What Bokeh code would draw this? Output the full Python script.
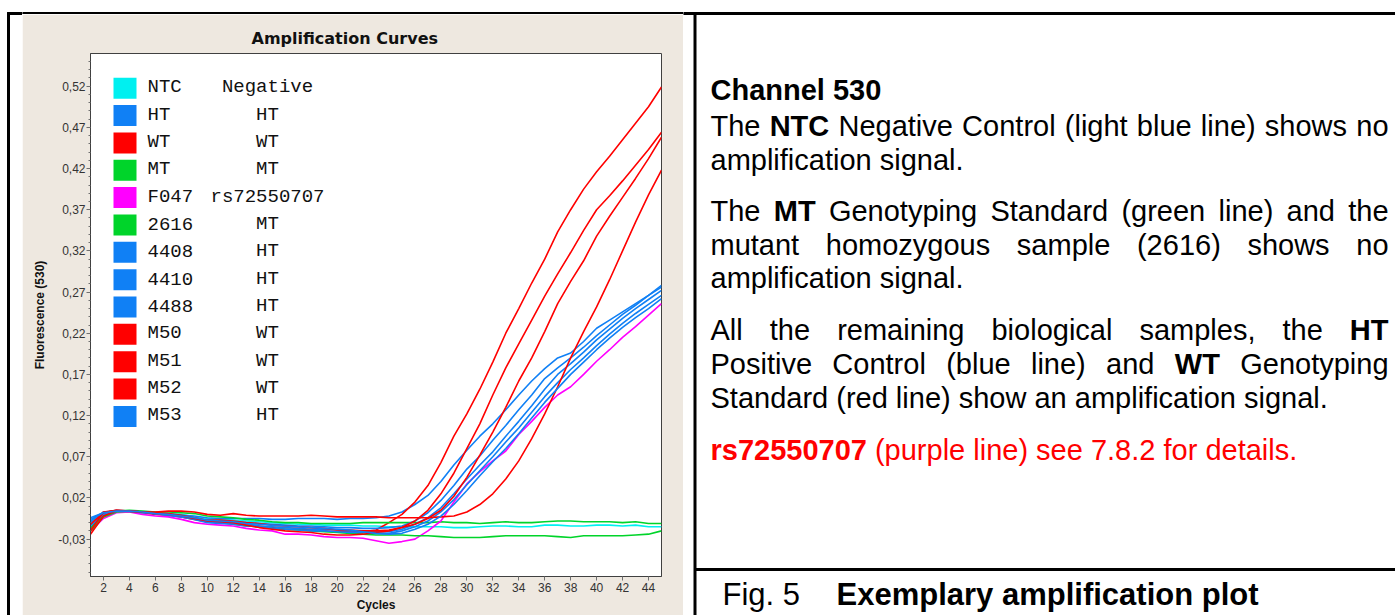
from bokeh.plotting import figure
from bokeh.layouts import row, column
from bokeh.models import Range1d, FixedTicker, BoxAnnotation, Label, ColumnDataSource
from bokeh.core.properties import value
from bokeh.embed import file_html
from bokeh.resources import INLINE

# ---------------- data ----------------
cycles = list(range(1, 46))

sample_names = ["NTC", "HT", "WT", "MT", "F047", "2616", "4408", "4410", "4488",
                "M50", "M51", "M52", "M53"]
sample_types = ["Negative", "HT", "WT", "MT", "rs72550707", "MT", "HT", "HT", "HT",
                "WT", "WT", "WT", "HT"]

ntc = [-0.010, 0.002, 0.004, 0.004, 0.003, 0.002, 0.001, 0.000, -0.003, -0.005,
       -0.006, -0.007, -0.008, -0.009, -0.010, -0.011, -0.012, -0.012, -0.013, -0.013,
       -0.013, -0.014, -0.014, -0.015, -0.015, -0.015, -0.015, -0.015, -0.016, -0.016,
       -0.015, -0.014, -0.014, -0.015, -0.015, -0.013, -0.013, -0.014, -0.014, -0.013,
       -0.013, -0.014, -0.013, -0.015, -0.015]
ht = [-0.008, 0.003, 0.004, 0.004, 0.003, 0.001, 0.000, -0.001, -0.002, -0.004,
      -0.005, -0.005, -0.005, -0.005, -0.006, -0.006, -0.005, -0.005, -0.005, -0.006,
      -0.005, -0.005, -0.004, -0.002, 0.003, 0.012, 0.023, 0.040, 0.060, 0.078,
      0.095, 0.110, 0.127, 0.145, 0.162, 0.177, 0.190, 0.196, 0.210, 0.226,
      0.236, 0.246, 0.256, 0.266, 0.276]
wt = [-0.018, 0.000, 0.004, 0.004, 0.002, 0.000, -0.001, -0.003, -0.006, -0.009,
      -0.010, -0.011, -0.012, -0.014, -0.016, -0.018, -0.018, -0.019, -0.020, -0.021,
      -0.021, -0.021, -0.019, -0.010, 0.000, 0.015, 0.035, 0.063, 0.095, 0.122,
      0.152, 0.185, 0.220, 0.250, 0.281, 0.310, 0.343, 0.370, 0.395, 0.416,
      0.435, 0.455, 0.475, 0.495, 0.519]
mt = [-0.016, -0.001, 0.004, 0.005, 0.004, 0.003, 0.003, 0.002, 0.001, -0.002,
      -0.003, -0.004, -0.006, -0.007, -0.009, -0.010, -0.010, -0.011, -0.011, -0.011,
      -0.011, -0.010, -0.010, -0.010, -0.010, -0.010, -0.010, -0.009, -0.010, -0.010,
      -0.011, -0.010, -0.009, -0.010, -0.010, -0.009, -0.008, -0.008, -0.009, -0.009,
      -0.009, -0.010, -0.009, -0.011, -0.011]
f047 = [-0.020, -0.005, 0.002, 0.003, 0.000, -0.002, -0.003, -0.006, -0.010, -0.012,
        -0.013, -0.014, -0.017, -0.019, -0.020, -0.024, -0.024, -0.025, -0.027, -0.028,
        -0.028, -0.029, -0.032, -0.035, -0.033, -0.030, -0.020, -0.008, 0.015, 0.037,
        0.052, 0.065, 0.077, 0.097, 0.113, 0.130, 0.145, 0.155, 0.170, 0.186,
        0.200, 0.215, 0.228, 0.242, 0.256]
s2616 = [-0.020, -0.003, 0.003, 0.004, 0.003, 0.002, 0.000, -0.002, -0.005, -0.008,
         -0.010, -0.012, -0.014, -0.015, -0.017, -0.018, -0.019, -0.020, -0.021, -0.022,
         -0.023, -0.024, -0.025, -0.025, -0.025, -0.026, -0.026, -0.027, -0.028, -0.028,
         -0.028, -0.027, -0.026, -0.026, -0.026, -0.026, -0.027, -0.028, -0.026, -0.026,
         -0.026, -0.026, -0.025, -0.024, -0.020]
s4408 = [-0.004, 0.002, 0.005, 0.004, 0.003, 0.002, 0.000, -0.002, -0.004, -0.007,
         -0.008, -0.009, -0.010, -0.011, -0.012, -0.013, -0.014, -0.014, -0.015, -0.016,
         -0.016, -0.017, -0.017, -0.016, -0.014, -0.008, 0.002, 0.017, 0.035, 0.055,
         0.071, 0.090, 0.108, 0.127, 0.145, 0.165, 0.178, 0.190, 0.203, 0.217,
         0.230, 0.243, 0.254, 0.266, 0.278]
s4410 = [-0.010, 0.001, 0.004, 0.004, 0.003, 0.001, -0.001, -0.003, -0.005, -0.009,
         -0.010, -0.011, -0.012, -0.014, -0.015, -0.016, -0.017, -0.018, -0.018, -0.019,
         -0.020, -0.020, -0.021, -0.021, -0.018, -0.012, -0.004, 0.008, 0.025, 0.043,
         0.060, 0.076, 0.095, 0.113, 0.132, 0.152, 0.170, 0.183, 0.197, 0.212,
         0.225, 0.238, 0.250, 0.261, 0.272]
s4488 = [-0.014, 0.000, 0.004, 0.004, 0.002, 0.001, -0.001, -0.003, -0.006, -0.010,
         -0.011, -0.012, -0.014, -0.015, -0.017, -0.018, -0.019, -0.020, -0.020, -0.021,
         -0.022, -0.022, -0.023, -0.023, -0.020, -0.015, -0.008, 0.003, 0.018, 0.036,
         0.053, 0.070, 0.088, 0.105, 0.124, 0.143, 0.160, 0.176, 0.190, 0.205,
         0.219, 0.232, 0.244, 0.255, 0.266]
m50 = [-0.024, -0.002, 0.004, 0.004, 0.003, 0.001, 0.000, -0.002, -0.005, -0.008,
       -0.009, -0.010, -0.013, -0.016, -0.018, -0.020, -0.021, -0.022, -0.024, -0.025,
       -0.025, -0.024, -0.022, -0.020, -0.016, -0.008, 0.005, 0.025, 0.050, 0.080,
       0.110, 0.145, 0.178, 0.207, 0.236, 0.265, 0.292, 0.318, 0.345, 0.370,
       0.387, 0.405, 0.424, 0.443, 0.464]
m51 = [-0.012, 0.002, 0.005, 0.004, 0.003, 0.002, 0.001, -0.001, -0.004, -0.007,
       -0.007, -0.008, -0.010, -0.011, -0.013, -0.014, -0.015, -0.016, -0.017, -0.019,
       -0.019, -0.020, -0.020, -0.019, -0.016, -0.012, -0.005, 0.005, 0.022, 0.045,
       0.072, 0.100, 0.130, 0.162, 0.190, 0.222, 0.256, 0.283, 0.308, 0.338,
       0.362, 0.385, 0.408, 0.432, 0.458]
m52 = [-0.020, 0.003, 0.005, 0.004, 0.003, 0.003, 0.004, 0.004, 0.003, 0.000,
       -0.001, 0.001, -0.001, -0.002, -0.002, -0.002, -0.002, -0.001, -0.002, -0.003,
       -0.003, -0.003, -0.003, -0.004, -0.004, -0.004, -0.004, -0.003, -0.002, 0.003,
       0.012, 0.025, 0.043, 0.065, 0.092, 0.122, 0.155, 0.190, 0.222, 0.252,
       0.285, 0.320, 0.355, 0.388, 0.418]
m53 = [-0.006, 0.002, 0.004, 0.004, 0.003, 0.001, 0.000, -0.002, -0.004, -0.007,
       -0.008, -0.009, -0.011, -0.012, -0.013, -0.014, -0.015, -0.016, -0.017, -0.018,
       -0.019, -0.021, -0.023, -0.024, -0.023, -0.018, -0.012, -0.002, 0.012, 0.029,
       0.047, 0.064, 0.080, 0.098, 0.117, 0.136, 0.153, 0.170, 0.185, 0.200,
       0.214, 0.227, 0.239, 0.250, 0.262]

series = [ntc, ht, wt, mt, f047, s2616, s4408, s4410, s4488, m50, m51, m52, m53]

type_colors = {"Negative": "#00F0F0", "HT": "#1080F5", "WT": "#FF0000",
               "MT": "#00D42A", "rs72550707": "#FF00FF"}

y_ticks = [-0.03, 0.02, 0.07, 0.12, 0.17, 0.22, 0.27, 0.32, 0.37, 0.42, 0.47, 0.52]
y_tick_labels = ["-0,03", "0,02", "0,07", "0,12", "0,17", "0,22", "0,27", "0,32",
                 "0,37", "0,42", "0,47", "0,52"]
x_ticks = list(range(2, 45, 2))

# ---------------- page geometry (pixels) ----------------
PAGE_W, PAGE_H = 1395, 615
BEIGE = "#EEE8E0"
BEIGE_L, BEIGE_R, BEIGE_T = 22, 683, 14
FRAME_L, FRAME_R, FRAME_T, FRAME_B = 90, 661, 53, 576


def blank(width, height, x0, y0):
    f = figure(width=width, height=height, output_backend="svg", toolbar_location=None,
               x_range=Range1d(x0, x0 + width), y_range=Range1d(y0 + height, y0),
               x_axis_type=None, y_axis_type=None, title=None, min_border=0,
               min_border_left=0, min_border_right=0, min_border_top=0,
               min_border_bottom=0, outline_line_color=None,
               background_fill_color="white", border_fill_color="white")
    return f


# left white strip with the table's left border
fa = blank(BEIGE_L, PAGE_H, 0, 0)
fa.quad(left=[7], right=[9], top=[12], bottom=[PAGE_H], color="black")
fa.quad(left=[7], right=[BEIGE_L], top=[12], bottom=[14], color="black")

# strip above the chart panel
fb = blank(BEIGE_R - BEIGE_L, BEIGE_T, BEIGE_L, 0)
fb.quad(left=[BEIGE_L], right=[BEIGE_R], top=[12], bottom=[14], color="black")

# ---------------- chart ----------------
p = figure(width=BEIGE_R - BEIGE_L, height=PAGE_H - BEIGE_T, output_backend="svg",
           toolbar_location=None,
           x_range=Range1d(1, 45), y_range=Range1d(-0.0754, 0.5597),
           min_border_left=FRAME_L - BEIGE_L, min_border_right=BEIGE_R - FRAME_R,
           min_border_top=FRAME_T - BEIGE_T, min_border_bottom=PAGE_H - FRAME_B,
           background_fill_color="white", border_fill_color=BEIGE,
           outline_line_color="#404040")
p.grid.visible = False

for name, typ, vals in zip(sample_names, sample_types, series):
    p.line(cycles, vals, line_color=type_colors[typ], line_width=1.6)

minor = [round(v / 100, 2) for v in range(-7, 56) if round(v / 100, 2) not in y_ticks]
p.yaxis.ticker = FixedTicker(ticks=y_ticks, minor_ticks=minor)
p.yaxis.major_label_overrides = {t: l for t, l in zip(y_ticks, y_tick_labels)}
p.xaxis.ticker = FixedTicker(ticks=x_ticks, minor_ticks=[])
for ax in (p.xaxis, p.yaxis):
    ax.axis_line_color = "#404040"
    ax.major_tick_line_color = "#707070"
    ax.minor_tick_line_color = "#707070"
    ax.major_tick_in = 0
    ax.major_tick_out = 4
    ax.minor_tick_in = 0
    ax.minor_tick_out = 2
    ax.major_label_text_font = "Liberation Sans"
    ax.major_label_text_font_size = "12px"
    ax.major_label_text_color = "#333333"
    ax.axis_label_text_font = "Liberation Sans"
    ax.axis_label_text_font_size = "12px"
    ax.axis_label_text_font_style = "bold"
    ax.axis_label_text_color = "#111111"
p.yaxis.major_label_standoff = 1
p.xaxis.major_label_standoff = 2
p.yaxis.axis_label = "Fluorescence (530)"
p.yaxis.axis_label_standoff = 8
p.xaxis.axis_label = "Cycles"
p.xaxis.axis_label_standoff = 3

p.title.text = "Amplification Curves"
p.title.text_font = "DejaVu Sans"
p.title.text_font_size = "16px"
p.title.text_font_style = "bold"
p.title.text_color = "#111111"
p.title.align = "left"
p.title.offset = 345 - 94 - FRAME_L
p.title.standoff = 12

# legend inside the plot frame (screen units from the frame's bottom-left corner)


def sx(X):
    return X - FRAME_L


def sy(Y):
    return FRAME_B - Y


LEG_TOP, LEG_STEP = 87.7, 27.35
for i, (name, typ) in enumerate(zip(sample_names, sample_types)):
    yc = LEG_TOP + i * LEG_STEP
    p.add_layout(BoxAnnotation(left=sx(113), right=sx(136), top=sy(yc - 10.5),
                               bottom=sy(yc + 10.5), left_units="screen",
                               right_units="screen", top_units="screen",
                               bottom_units="screen", fill_color=type_colors[typ],
                               fill_alpha=1.0, line_alpha=0))
    p.add_layout(Label(x=sx(147), y=sy(yc - 1), x_units="screen", y_units="screen",
                       text=name, text_font="Liberation Mono", text_font_size="19px",
                       text_color="#111111", text_baseline="middle"))
    p.add_layout(Label(x=sx(267), y=sy(yc - 1), x_units="screen", y_units="screen",
                       text=typ, text_font="Liberation Mono", text_font_size="19px",
                       text_color="#111111", text_baseline="middle",
                       text_align="center"))

# ---------------- right text panel ----------------
fd = blank(PAGE_W - BEIGE_R, PAGE_H, BEIGE_R, 0)
fd.quad(left=[BEIGE_R], right=[PAGE_W], top=[12], bottom=[14], color="black")
fd.quad(left=[693.5], right=[695.5], top=[12], bottom=[PAGE_H], color="black")
fd.quad(left=[694], right=[PAGE_W], top=[568], bottom=[570], color="black")

REG = dict(zip("abcdefghijklmnopqrstuvwxyz",
               [556, 556, 500, 556, 556, 278, 556, 556, 222, 222, 500, 222, 833, 556,
                556, 556, 556, 333, 500, 278, 556, 500, 722, 500, 500, 500]))
REG.update(dict(zip("ABCDEFGHIJKLMNOPQRSTUVWXYZ",
                    [667, 667, 722, 722, 667, 611, 778, 722, 278, 500, 667, 556, 833,
                     722, 778, 667, 778, 722, 667, 611, 722, 667, 944, 667, 667, 611])))
BOLD = dict(zip("abcdefghijklmnopqrstuvwxyz",
                [556, 611, 556, 611, 556, 333, 611, 611, 278, 278, 556, 278, 889, 611,
                 611, 611, 611, 389, 556, 333, 611, 556, 778, 556, 556, 500]))
BOLD.update(dict(zip("ABCDEFGHIJKLMNOPQRSTUVWXYZ",
                     [722, 722, 722, 722, 667, 611, 778, 722, 278, 556, 722, 611, 833,
                      722, 778, 667, 778, 722, 667, 611, 722, 667, 944, 667, 667, 611])))
for d in (REG, BOLD):
    d.update({c: 556 for c in "0123456789"})
    d.update({" ": 278, "(": 333, ")": 333, ",": 278, ".": 278})


def tw(s, bold, size):
    d = BOLD if bold else REG
    return sum(d.get(ch, 556) for ch in s) * size / 1000.0


RED = "#FF0000"
K = "#000000"
TEXT_LEFT, TEXT_RIGHT, BODY = 710, 1388, 29
text_lines = [
    (89, [("Channel 530", True, K)], False),
    (125, [("The", False, K), ("NTC", True, K),
           ("Negative Control (light blue line) shows no", False, K)], True),
    (159, [("amplification signal.", False, K)], False),
    (210, [("The", False, K), ("MT", True, K),
           ("Genotyping Standard (green line) and the", False, K)], True),
    (244, [("mutant homozygous sample (2616) shows no", False, K)], True),
    (277, [("amplification signal.", False, K)], False),
    (329, [("All the remaining biological samples, the", False, K), ("HT", True, K)], True),
    (363, [("Positive Control (blue line) and", False, K), ("WT", True, K),
           ("Genotyping", False, K)], True),
    (397, [("Standard (red line) show an amplification signal.", False, K)], False),
    (449, [("rs72550707", True, RED), ("(purple line) see 7.8.2 for details.", False, RED)], False),
]

tx, ty, tt, tc, ts = [], [], [], [], []
for yline, segs, justify in text_lines:
    words = []
    for text, bold, color in segs:
        for w in text.split():
            words.append((w, bold, color))
    widths = [tw(w, b, BODY) for w, b, c in words]
    if justify and len(words) > 1:
        gap = (TEXT_RIGHT - TEXT_LEFT - sum(widths)) / (len(words) - 1)
    else:
        gap = 0.278 * BODY
    xpos = TEXT_LEFT
    for (w, b, c), wd in zip(words, widths):
        tx.append(xpos)
        ty.append(yline)
        tt.append(w)
        tc.append(c)
        ts.append("bold" if b else "normal")
        xpos += wd + gap

body_src = ColumnDataSource(dict(x=tx, y=ty, text=tt, color=tc, style=ts))
fd.text(x="x", y="y", text="text", source=body_src, text_color="color",
        text_font_style="style", text_font=value("Liberation Sans"),
        text_font_size=value(f"{BODY}px"), text_baseline="middle", text_align="left")

cap_src = ColumnDataSource(dict(x=[722, 836], y=[594, 594],
                                text=["Fig. 5", "Exemplary amplification plot"],
                                style=["normal", "bold"]))
fd.text(x="x", y="y", text="text", source=cap_src, text_color="black",
        text_font_style="style", text_font=value("Liberation Sans"),
        text_font_size=value("31px"), text_baseline="middle", text_align="left")

layout = row(fa, column(row(fb, spacing=0), p, spacing=0), fd, spacing=0)
open("out.html", "w").write(file_html(layout, INLINE))
